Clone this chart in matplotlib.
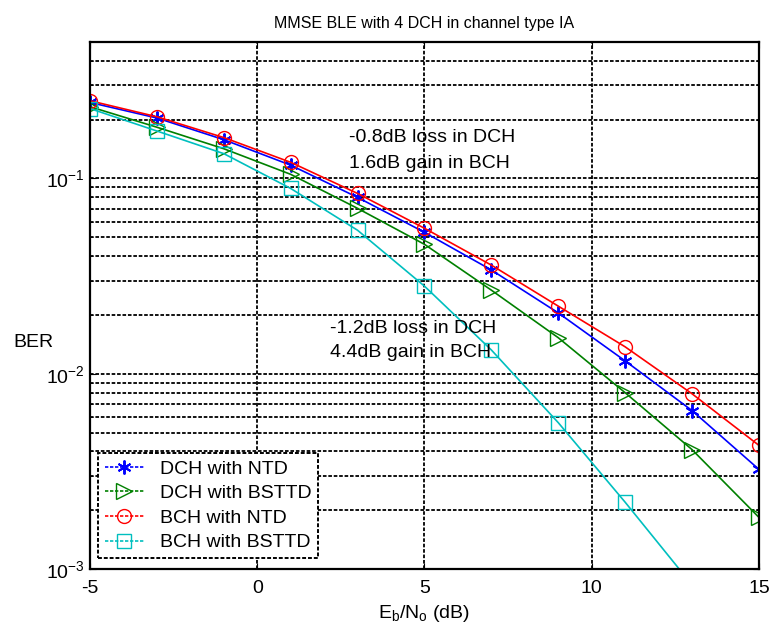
import matplotlib
matplotlib.use("Agg")
import matplotlib.pyplot as plt
import numpy as np

plt.rcParams['font.family'] = ['Liberation Sans', 'DejaVu Sans']
plt.rcParams['mathtext.default'] = 'regular'

ebno = [-5, -3, -1, 1, 3, 5, 7, 9, 11, 13, 15]
dch_ntd = [0.245, 0.204, 0.158, 0.117, 0.080, 0.053, 0.034, 0.0205, 0.01164, 0.00648, 0.00324]
dch_bsttd = [0.233, 0.183, 0.142, 0.105, 0.0703, 0.046, 0.0268, 0.0153, 0.0080, 0.00409, 0.00184]
bch_ntd = [0.25, 0.207, 0.162, 0.121, 0.0838, 0.0556, 0.036, 0.0222, 0.01374, 0.0079, 0.0043]
ebno_bch_bsttd = [-5, -3, -1, 1, 3, 5, 7, 9, 11, 13]
bch_bsttd = [0.228, 0.175, 0.134, 0.0889, 0.0543, 0.0281, 0.01324, 0.00562, 0.0022, 0.00083]

labels = ['DCH with NTD', 'DCH with BSTTD', 'BCH with NTD', 'BCH with BSTTD']
colors = ['#0000ff', '#008000', '#ff0000', '#00bfbf']

fig = plt.figure(figsize=(7.72, 6.35), dpi=100)
ax = fig.add_axes([0.1166, 0.1039, 0.8664, 0.83])

gridstyle = (0, (2, 1))
ax.grid(True, which='major', axis='both', linestyle=gridstyle, color='black', linewidth=1.3)
ax.grid(True, which='minor', axis='y', linestyle=gridstyle, color='black', linewidth=1.3)
ax.set_axisbelow(True)

ax.semilogy(ebno, dch_ntd, color=colors[0], marker=(6, 2, 0), markersize=10, lw=1.2,
            mfc='none', mec=colors[0], mew=1.4, label=labels[0])
ax.semilogy(ebno, dch_bsttd, color=colors[1], marker='>', markersize=11, lw=1.2,
            mfc='none', mec=colors[1], label=labels[1])
ax.semilogy(ebno, bch_ntd, color=colors[2], marker='o', markersize=10, lw=1.2,
            mfc='none', mec=colors[2], label=labels[2])
ax.semilogy(ebno_bch_bsttd, bch_bsttd, color=colors[3], marker='s', markersize=10, lw=1.2,
            mfc='none', mec=colors[3], label=labels[3])

ax.set_xlim(-5, 15)
ax.set_ylim(1e-3, 0.5)
ax.set_xticks([-5, 0, 5, 10, 15])
ax.set_xticklabels(['-5', '0', '5', '10', '15'])
ax.set_yticks([1e-3, 1e-2, 1e-1])
ax.set_yticklabels(['$10^{-3}$', '$10^{-2}$', '$10^{-1}$'])
ax.tick_params(which='both', direction='in', top=True, right=True, labelsize=14, length=4)
ax.tick_params(which='minor', length=2)
ax.tick_params(axis='x', pad=8)

for s in ax.spines.values():
    s.set_linestyle(gridstyle)
    s.set_linewidth(1.6)

ax.set_title('MMSE BLE with 4 DCH in channel type IA', fontsize=11.5, pad=10)
ax.set_xlabel('$E_b/N_o$ (dB)', fontsize=14, labelpad=4)
ax.set_ylabel('BER', fontsize=14, rotation=0, ha='center', va='center')
ax.yaxis.set_label_coords(-0.085, 0.43)

ax.text(2.74, 0.162, '-0.8dB loss in DCH', fontsize=14, va='center')
ax.text(2.74, 0.119, '1.6dB gain in BCH', fontsize=14, va='center')
ax.text(2.17, 0.017, '-1.2dB loss in DCH', fontsize=14, va='center')
ax.text(2.17, 0.0128, '4.4dB gain in BCH', fontsize=14, va='center')

leg = ax.legend(loc='lower left', bbox_to_anchor=(0.012, 0.021), borderaxespad=0,
                fontsize=14, fancybox=False, edgecolor='black', framealpha=1,
                handlelength=2.0, labelspacing=0.36, borderpad=0.34, handletextpad=0.85)
leg.get_frame().set_linestyle(gridstyle)
leg.get_frame().set_linewidth(1.4)
for h in leg.legend_handles:
    h.set_linestyle((0, (2, 1)))

fig.savefig('out.png', dpi=100)
